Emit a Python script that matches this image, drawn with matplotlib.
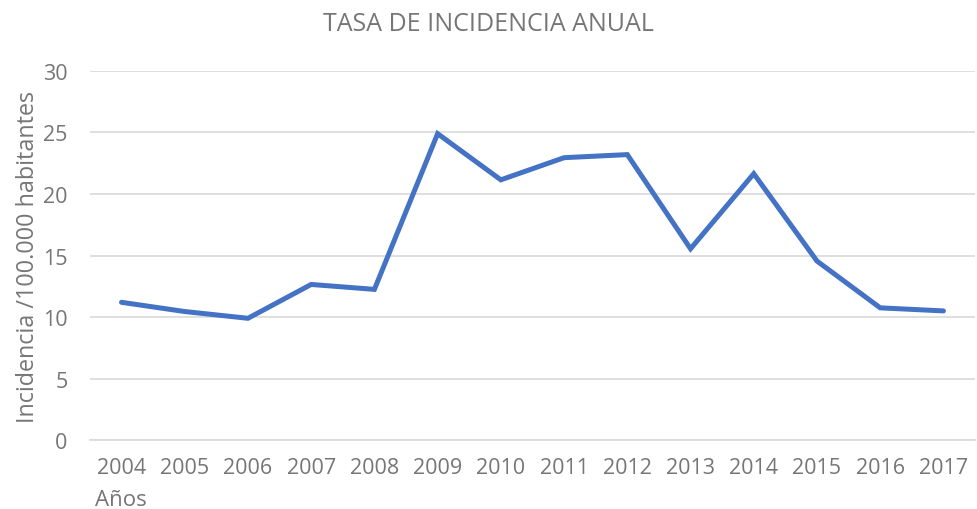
import matplotlib
matplotlib.use("Agg")
import matplotlib.pyplot as plt

years = ["2004", "2005", "2006", "2007", "2008", "2009", "2010",
         "2011", "2012", "2013", "2014", "2015", "2016", "2017"]
incidence = [11.2, 10.45, 9.9, 12.65, 12.25, 24.9, 21.15,
             22.95, 23.2, 15.55, 21.65, 14.55, 10.75, 10.5]
yticks = [0, 5, 10, 15, 20, 25, 30]

plt.rcParams['font.family'] = ['Open Sans', 'DejaVu Sans']
gray = "#767676"

fig = plt.figure(figsize=(9.77, 5.10), dpi=100)
ax = fig.add_axes([0.092, 0.135, 0.906, 0.724])
x = list(range(len(years)))
ax.plot(x, incidence, color="#4472C4", lw=3.6, solid_joinstyle="miter", solid_capstyle="round")
ax.set_xlim(-0.5, len(years) - 0.5)
ax.set_ylim(0, 30)
ax.set_yticks(yticks)
ax.set_xticks(x)
ax.set_xticklabels(years)
ax.grid(axis="y", color="#D9D9D9", lw=1.2)
ax.set_axisbelow(True)
for s in ["top", "right", "left"]:
    ax.spines[s].set_visible(False)
ax.spines["bottom"].set_color("#D9D9D9")
ax.spines["bottom"].set_linewidth(1.2)
ax.tick_params(length=0, colors=gray, labelsize=15.5)
ax.tick_params(axis="x", pad=12)
ax.tick_params(axis="y", pad=16)
ax.set_ylabel("Incidencia /100.000 habitantes", color=gray, fontsize=16.8, labelpad=2)
fig.text(0.5, 0.952, "TASA DE INCIDENCIA ANUAL", color=gray, fontsize=18,
         ha="center", va="center")
fig.text(0.097, 0.008, "Años", color=gray, fontsize=16, ha="left", va="baseline")
fig.savefig("out.png", dpi=100)
